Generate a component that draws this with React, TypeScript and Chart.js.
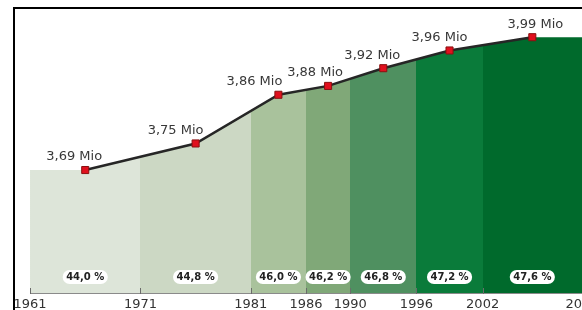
import React, { useEffect, useRef } from 'react';
import { Chart, registerables } from 'chart.js';

Chart.register(...registerables);

// Period boundaries (years) and axis tick labels
const periodBounds = [1961, 1971, 1981, 1986, 1990, 1996, 2002, 2011];
const tickLabels = ['1961', '1971', '1981', '1986', '1990', '1996', '2002', '2011'];
// Values per period (millions)
const populationMio = [3.69, 3.75, 3.86, 3.88, 3.92, 3.96, 3.99];
// Share per period (%)
const sharePct = [44.0, 44.8, 46.0, 46.2, 46.8, 47.2, 47.6];
// Fill colour per period
const periodColors = ['#dde5d9', '#ccd8c4', '#a9c29c', '#80a878', '#4f9060', '#0a7b3a', '#006a2c'];

const valueLabels = populationMio.map((v) => v.toFixed(2).replace('.', ',') + ' Mio');
const shareLabels = sharePct.map((v) => v.toFixed(1).replace('.', ',') + ' %');
const mids = periodBounds.slice(0, -1).map((b, i) => (b + periodBounds[i + 1]) / 2);

const FONT = '"DejaVu Sans", Verdana, sans-serif';
// horizontal nudge of each value label relative to its point (style)
const LABEL_NUDGE = [-11, -20, -24, -13, -11, -10, 3];

const annotatePlugin = {
  id: 'annotate',
  afterDatasetsDraw(chart: any) {
    const { ctx, chartArea, scales } = chart;
    const x = scales.x;
    ctx.save();
    // axis line starting at first period
    ctx.strokeStyle = '#8a8a8a';
    ctx.lineWidth = 1;
    const x0 = Math.round(x.getPixelForValue(periodBounds[0]));
    ctx.beginPath();
    ctx.moveTo(x0, chartArea.bottom + 0.5);
    ctx.lineTo(chartArea.right, chartArea.bottom + 0.5);
    ctx.stroke();
    // inner tick marks
    ctx.strokeStyle = '#6b6b6b';
    periodBounds.forEach((b) => {
      const px = Math.round(x.getPixelForValue(b)) + 0.5;
      ctx.beginPath();
      ctx.moveTo(px, chartArea.bottom - 5);
      ctx.lineTo(px, chartArea.bottom + 1);
      ctx.stroke();
    });
    // value labels above points
    const meta = chart.getDatasetMeta(1);
    ctx.font = '13px ' + FONT;
    ctx.fillStyle = '#383838';
    ctx.textAlign = 'center';
    ctx.textBaseline = 'middle';
    meta.data.forEach((pt: any, i: number) => {
      ctx.fillText(valueLabels[i], pt.x + (LABEL_NUDGE[i] || 0), pt.y - 13);
    });
    // share pills
    ctx.font = 'bold 10px ' + FONT;
    mids.forEach((m, i) => {
      const cx = x.getPixelForValue(m);
      const cy = chartArea.bottom - 16;
      const w = ctx.measureText(shareLabels[i]).width + 7;
      const h = 14;
      ctx.fillStyle = '#ffffff';
      ctx.beginPath();
      ctx.roundRect(cx - w / 2, cy - h / 2, w, h, 7);
      ctx.fill();
      ctx.fillStyle = '#222222';
      ctx.fillText(shareLabels[i], cx, cy + 0.5);
    });
    ctx.restore();
  },
};

export default function App() {
  const canvasRef = useRef<HTMLCanvasElement | null>(null);

  useEffect(() => {
    if (!canvasRef.current) return;
    const last = periodBounds.length - 1;
    const areaData = [
      { x: periodBounds[0], y: populationMio[0] },
      ...mids.map((m, i) => ({ x: m, y: populationMio[i] })),
      { x: periodBounds[last], y: populationMio[populationMio.length - 1] },
    ];
    const lineData = mids.map((m, i) => ({ x: m, y: populationMio[i] }));

    const chart = new Chart(canvasRef.current, {
      type: 'line',
      data: {
        datasets: [
          {
            data: areaData,
            order: 2,
            borderWidth: 0,
            pointRadius: 0,
            fill: 'start',
            tension: 0,
            backgroundColor: (c: any) => {
              const ch = c.chart;
              const area = ch.chartArea;
              if (!area || !ch.scales.x) return periodColors[0];
              const xs = ch.scales.x;
              const g = ch.ctx.createLinearGradient(area.left, 0, area.right, 0);
              const clamp = (v: number) => Math.max(0, Math.min(1, v));
              const w = area.right - area.left;
              periodColors.forEach((col, i) => {
                const p0 = clamp((xs.getPixelForValue(periodBounds[i]) - area.left) / w);
                const p1 = clamp((xs.getPixelForValue(periodBounds[i + 1]) - area.left) / w);
                g.addColorStop(p0, col);
                g.addColorStop(p1, col);
              });
              return g;
            },
          },
          {
            data: lineData,
            order: 1,
            fill: false,
            tension: 0,
            borderColor: '#262626',
            borderWidth: 2.5,
            pointStyle: 'rect',
            pointRadius: 5,
            pointBackgroundColor: '#e0101e',
            pointBorderColor: '#8a1010',
            pointBorderWidth: 1,
          },
        ],
      },
      options: {
        animation: false,
        responsive: true,
        maintainAspectRatio: false,
        events: [],
        layout: { padding: 0, autoPadding: false },
        plugins: { legend: { display: false }, tooltip: { enabled: false } },
        scales: {
          x: {
            type: 'linear',
            min: 1958.28,
            max: 2011,
            afterBuildTicks: (scale: any) => {
              scale.ticks = periodBounds.map((v) => ({ value: v }));
            },
            afterFit: (scale: any) => {
              scale.height = 17;
              scale.paddingLeft = 0;
              scale.paddingRight = 0;
            },
            grid: { display: false, drawTicks: false },
            border: { display: false },
            ticks: {
              autoSkip: false,
              maxRotation: 0,
              padding: 4,
              color: '#333333',
              font: { family: FONT, size: 13 },
              callback: (_v: any, i: number) => tickLabels[i],
            },
          },
          y: {
            display: false,
            min: 3.4123,
            max: 4.074,
          },
        },
      },
      plugins: [annotatePlugin],
    });
    return () => chart.destroy();
  }, []);

  return (
    <div style={{ position: 'fixed', left: 0, top: 0, width: 582, height: 310, background: '#fff' }}>
      <div
        style={{
          position: 'absolute',
          left: 13,
          top: 7,
          right: 0,
          bottom: 0,
          borderLeft: '2px solid #000',
          borderTop: '2px solid #000',
        }}
      />
      <div style={{ position: 'absolute', left: 0, top: 0, width: 582, height: 310 }}>
        <canvas ref={canvasRef} />
      </div>
    </div>
  );
}
